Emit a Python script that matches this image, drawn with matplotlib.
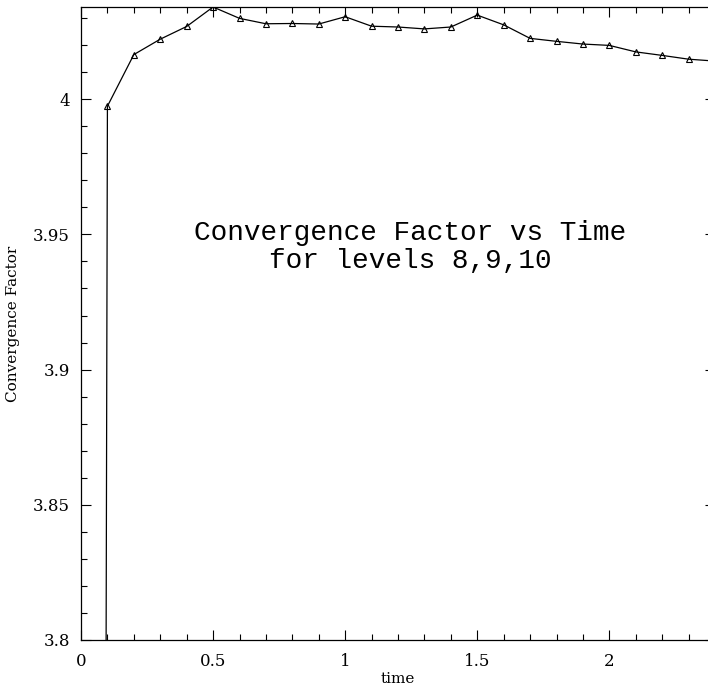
import numpy as np
import matplotlib
matplotlib.use("Agg")
import matplotlib.pyplot as plt
from matplotlib.ticker import MultipleLocator

# data
time = [0.0, 0.1, 0.2, 0.3, 0.4, 0.5, 0.6, 0.7, 0.8, 0.9, 1.0, 1.1, 1.2,
        1.3, 1.4, 1.5, 1.6, 1.7, 1.8, 1.9, 2.0, 2.1, 2.2, 2.3, 2.4]
conv = [0.0, 3.9974, 4.0165, 4.0222, 4.0269, 4.0341, 4.0299, 4.0279,
        4.0280, 4.0278, 4.0305, 4.0270, 4.0267, 4.0260, 4.0267, 4.0311,
        4.0275, 4.0225, 4.0214, 4.0204, 4.0199, 4.0175, 4.0162, 4.0148,
        4.0141]

title_lines = ["Convergence Factor vs Time", "for levels 8,9,10"]

plt.rcParams['font.family'] = ['DejaVu Serif']

fig = plt.figure(figsize=(7.08, 6.92), dpi=100)
ax = fig.add_axes([81 / 708, 1 - 640 / 692, 634 / 708, 633 / 692])

ax.plot(time, conv, color='black', lw=0.9, marker='^', ms=4.5,
        mfc='none', mec='black', mew=0.8)

ax.set_xlim(0, 2.4)
ax.set_ylim(3.8, 4.0341)

ax.xaxis.set_major_locator(MultipleLocator(0.5))
ax.xaxis.set_minor_locator(MultipleLocator(0.1))
ax.yaxis.set_major_locator(MultipleLocator(0.05))
ax.yaxis.set_minor_locator(MultipleLocator(0.01))
ax.xaxis.set_major_formatter(lambda v, p: f"{v:g}")
ax.yaxis.set_major_formatter(lambda v, p: f"{v:g}")

ax.tick_params(which='both', direction='in', top=True, right=True,
               labelsize=12, width=0.8)
ax.tick_params(axis='x', pad=9)
ax.tick_params(axis='y', pad=8)
ax.tick_params(which='major', length=7.5)
ax.tick_params(which='minor', length=4.5)
for s in ax.spines.values():
    s.set_linewidth(0.9)

ax.set_xlabel("time", fontsize=11, labelpad=2)
ax.set_ylabel("Convergence Factor", fontsize=11, labelpad=9)

ax.text(1.245, 3.9452, "\n".join(title_lines), ha='center', va='center',
        fontsize=20, family='Liberation Mono', linespacing=1.1)

fig.savefig("out.png", dpi=100)
